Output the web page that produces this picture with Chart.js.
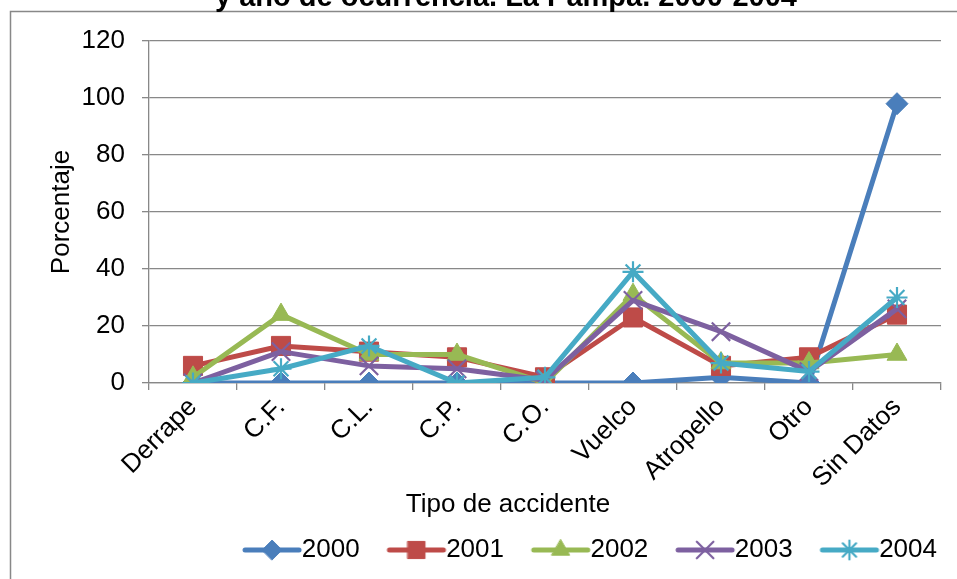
<!DOCTYPE html>
<html>
<head>
<meta charset="utf-8">
<script src="https://cdn.jsdelivr.net/npm/chart.js@4/dist/chart.umd.min.js"></script>
<style>
  html, body { margin: 0; padding: 0; background: #ffffff; }
  #wrap { position: relative; width: 957px; height: 579px; overflow: hidden; }
  canvas { display: block; }
</style>
</head>
<body>
<div id="wrap"><canvas id="chart" width="957" height="579"></canvas></div>
<script>
// Accident type categories (x axis)
const categories = ['Derrape', 'C.F.', 'C.L.', 'C.P.', 'C.O.', 'Vuelco', 'Atropello', 'Otro', 'Sin Datos'];

// Year series (percentage of accidents per type)
const years = ['2000', '2001', '2002', '2003', '2004'];
const pct2000 = [0, 0, 0, 0, 0, 0, 2, 0, 98];
const pct2001 = [6, 13, 11, 9, 2, 23, 6, 9, 24];
const pct2002 = [2, 24, 10, 10, 0, 31, 7, 7, 10];
const pct2003 = [0, 11, 6, 5, 1, 29, 18, 4, 26];
const pct2004 = [0, 5, 13, 0, 2, 39, 7, 4, 30];

// Y axis ticks
const yTicks = [0, 20, 40, 60, 80, 100, 120];

const titleText = 'y año de ocurrencia. La Pampa. 2000-2004';
const xTitle = 'Tipo de accidente';
const yTitle = 'Porcentaje';

// Series styling
const series = [pct2000, pct2001, pct2002, pct2003, pct2004];
const colors = ['#4A7EBB', '#BE4B48', '#98B954', '#7D60A0', '#46AAC5'];
const markers = ['rectRot', 'rect', 'triangle', 'crossRot', 'star'];
const markerRadius = [11, 13.5, 11.5, 13, 10.5];
const markerBorder = [1, 1, 1, 2.2, 2.2];

const FONT = '"Liberation Sans", Arial, sans-serif';
const FS = 26;
const GRID = '#888888';

Chart.defaults.font.family = FONT;
Chart.defaults.color = '#000000';

// Legend icon: a short line with the series marker in its middle
function legendIcon(i) {
  const cv = document.createElement('canvas');
  cv.width = 120; cv.height = 30;
  const g = cv.getContext('2d');
  g.strokeStyle = colors[i];
  g.lineWidth = 5;
  g.lineCap = 'round';
  g.beginPath(); g.moveTo(51, 15); g.lineTo(105, 15); g.stroke();
  g.fillStyle = colors[i];
  g.strokeStyle = colors[i];
  g.lineWidth = markerBorder[i];
  Chart.helpers.drawPoint(g, {
    pointStyle: markers[i], radius: markerRadius[i] * 0.9, rotation: 0, borderWidth: markerBorder[i]
  }, 78, 15);
  return cv;
}
const icons = years.map((_, i) => legendIcon(i));

// Outer frame, the heading line above the plot and the x axis title
const framePlugin = {
  id: 'frame',
  beforeDraw(chart) {
    const ctx = chart.ctx;
    ctx.save();
    ctx.fillStyle = '#ffffff';
    ctx.fillRect(0, 0, chart.width, chart.height);
    ctx.strokeStyle = GRID;
    ctx.lineWidth = 1.5;
    ctx.beginPath();
    ctx.moveTo(10.5, chart.height + 5);
    ctx.lineTo(10.5, 11.5);
    ctx.lineTo(chart.width + 5, 11.5);
    ctx.stroke();
    ctx.font = 'bold 29px ' + FONT;
    ctx.fillStyle = '#000000';
    ctx.textAlign = 'center';
    ctx.textBaseline = 'alphabetic';
    ctx.fillText(titleText, 506, 6);
    ctx.restore();
  },
  afterDraw(chart) {
    const ctx = chart.ctx;
    ctx.save();
    ctx.font = FS + 'px ' + FONT;
    ctx.fillStyle = '#000000';
    ctx.textAlign = 'center';
    ctx.textBaseline = 'middle';
    ctx.fillText(xTitle, 508, 505);
    ctx.restore();
  }
};

new Chart(document.getElementById('chart'), {
  type: 'line',
  data: {
    labels: categories,
    datasets: series.map((vals, i) => ({
      label: years[i],
      data: vals,
      order: years.length - i,
      borderColor: colors[i],
      backgroundColor: colors[i],
      borderWidth: 5,
      borderJoinStyle: 'round',
      borderCapStyle: 'round',
      tension: 0,
      fill: false,
      pointStyle: markers[i],
      pointRadius: markerRadius[i],
      pointHoverRadius: markerRadius[i],
      pointBorderWidth: markerBorder[i],
      pointBorderColor: colors[i],
      pointBackgroundColor: colors[i]
    }))
  },
  options: {
    responsive: false,
    animation: false,
    devicePixelRatio: 1,
    layout: { padding: { left: 10, top: 41, right: 16, bottom: 6 } },
    plugins: {
      title: { display: false },
      tooltip: { enabled: false },
      legend: {
        position: 'bottom',
        align: 'end',
        labels: {
          font: { size: FS },
          color: '#000000',
          usePointStyle: true,
          pointStyleWidth: 69.5,
          padding: 4,
          generateLabels: (chart) => chart.data.datasets.map((ds, i) => ({
            text: ds.label,
            pointStyle: icons[i],
            fillStyle: colors[i],
            strokeStyle: colors[i],
            lineWidth: 0,
            hidden: !chart.isDatasetVisible(i),
            datasetIndex: i,
            fontColor: '#000000'
          }))
        }
      }
    },
    scales: {
      x: {
        offset: true,
        afterFit: (s) => { s.height = 150; },
        grid: { offset: true, drawOnChartArea: false, drawTicks: true, tickLength: 7, color: GRID, lineWidth: 1.3 },
        border: { display: true, color: GRID, width: 1.3 },
        ticks: { font: { size: FS }, color: '#000000', minRotation: 45, maxRotation: 45, padding: 2, autoSkip: false },
        title: { display: false }
      },
      y: {
        min: 0,
        max: 120,
        afterFit: (s) => { s.width = 139; },
        afterBuildTicks: (s) => { s.ticks = yTicks.map(v => ({ value: v })); },
        grid: { color: GRID, lineWidth: 1.3, drawTicks: true, tickLength: 7 },
        border: { display: true, color: GRID, width: 1.3 },
        ticks: { font: { size: FS }, color: '#000000', padding: 17 },
        title: { display: true, text: yTitle, font: { size: FS }, color: '#000000', padding: { top: 36, bottom: 0 } }
      }
    }
  },
  plugins: [framePlugin]
});
</script>
</body>
</html>
